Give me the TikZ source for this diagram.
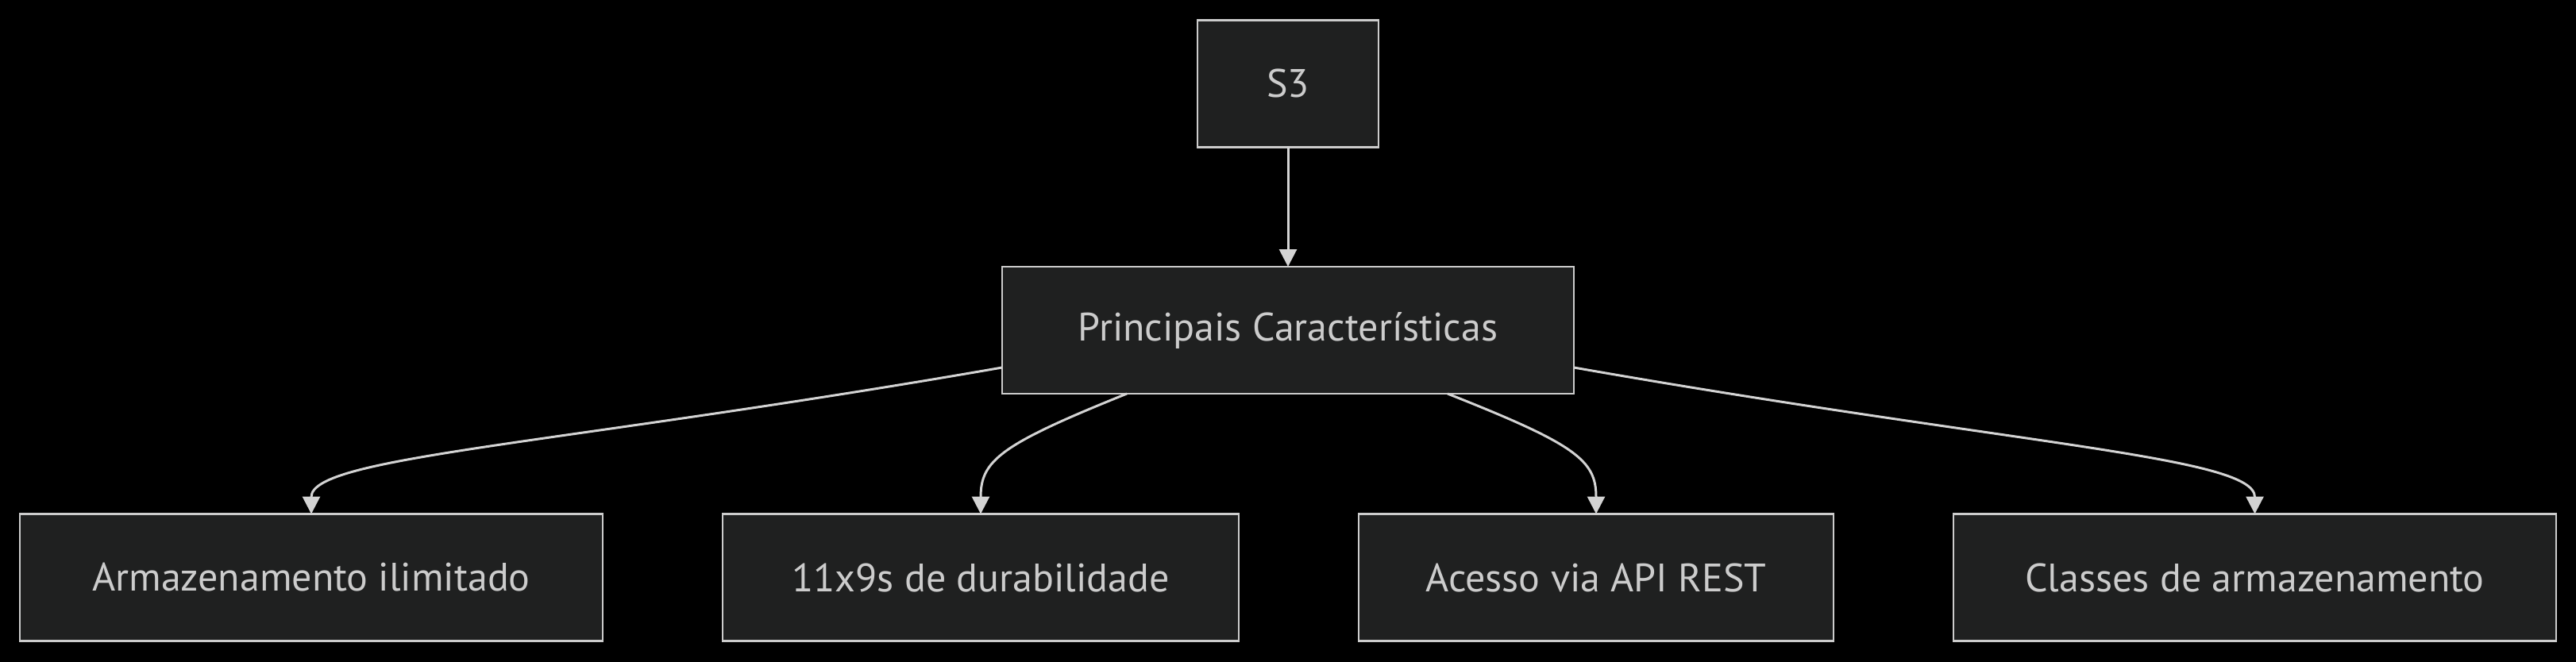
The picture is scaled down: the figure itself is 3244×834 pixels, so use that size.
\documentclass[tikz,border=0pt]{standalone}
\usepackage{fontspec}
\setmainfont{PT Sans}
\usetikzlibrary{arrows.meta}
\definecolor{bg}{HTML}{000000}
\definecolor{boxfill}{HTML}{1F2020}
\definecolor{boxline}{HTML}{CCCCCC}
\definecolor{txt}{HTML}{CCCCCC}
\definecolor{edgecol}{HTML}{D3D3D3}
\tikzset{
  box/.style={draw=boxline, fill=boxfill, line width=2.5pt, text=txt,
    minimum height=160pt, inner sep=0pt, outer sep=0pt,
    font=\fontsize{50pt}{56pt}\selectfont},
  edge/.style={draw=edgecol, line width=3pt,
    -{Triangle[length=22pt,width=22pt,fill=edgecol]}}
}
\begin{document}
\begin{tikzpicture}[x=1pt,y=-1pt]
\fill[bg] (0,0) rectangle (3244,834);
\useasboundingbox (0,0) rectangle (3244,834);
\node[box, minimum width=228pt] (s3) at (1622,105.5) {S3};
\node[box, minimum width=720pt] (pc) at (1622,416) {Principais Características};
\node[box, minimum width=734pt] (a) at (392,727.5) {Armazenamento ilimitado};
\node[box, minimum width=650pt] (b) at (1235,727.5) {11x9s de durabilidade};
\node[box, minimum width=598pt] (c) at (2010,727.5) {Acesso via API REST};
\node[box, minimum width=759pt] (d) at (2839.5,727.5) {Classes de armazenamento};
\draw[edge] (s3) -- (pc);
\draw[edge] ([yshift=-47pt]pc.west) .. controls (700,561) and (392,575) .. (a.north);
\draw[edge] ([xshift=-203pt]pc.south) .. controls (1260,560) and (1235,580) .. (b.north);
\draw[edge] ([xshift=201pt]pc.south) .. controls (1985,560) and (2010,580) .. (c.north);
\draw[edge] ([yshift=-47pt]pc.east) .. controls (2540,561) and (2839.5,575) .. (d.north);
\end{tikzpicture}
\end{document}
